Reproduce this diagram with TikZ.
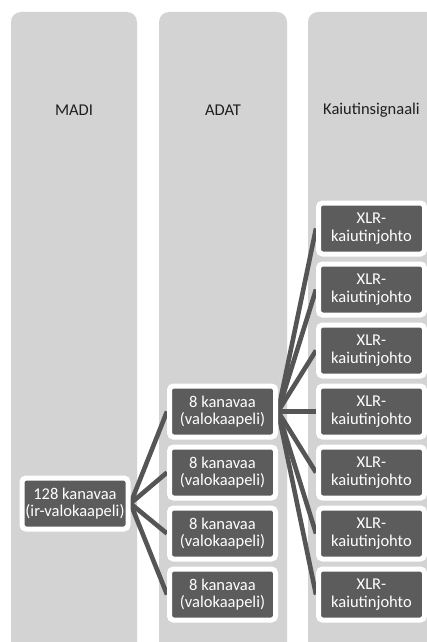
\documentclass[tikz,border=0pt]{standalone}
\usepackage{fontspec}
\setmainfont{Carlito}
\usetikzlibrary{backgrounds}
\definecolor{colgray}{HTML}{D3D3D3}
\definecolor{boxgray}{HTML}{5C5C5C}
\definecolor{wiregray}{HTML}{555555}
\tikzset{
  chan/.style={fill=boxgray, draw=white, line width=5pt, rounded corners=4pt,
    minimum width=106pt, minimum height=51pt, inner sep=0pt, align=center,
    text=white, font=\fontsize{16.5}{17.5}\selectfont},
  wire/.style={wiregray, line width=4.6pt},
  coltitle/.style={text=black!88, font=\fontsize{16.5}{18}\selectfont},
  column/.style={colgray, rounded corners=10pt}
}
\begin{document}
\begin{tikzpicture}[x=1pt,y=-1pt]
\useasboundingbox (0,0) rectangle (427,642);
\node[coltitle] (tmadi) at (74,110) {MADI};
\node[coltitle] (tadat) at (223,110) {ADAT};
\node[coltitle] (tkaiutin) at (371.5,110) {Kaiutinsignaali};
\node[chan] (madi) at (75,503.5) {128 kanavaa\\(ir-valokaapeli)};
\foreach \i in {1,...,4}
  \node[chan] (adat\i) at (222.5,167.5+61*\i+183) {8 kanavaa\\(valokaapeli)};
\foreach \i in {1,...,7}
  \node[chan] (xlr\i) at (371.5,167.5+61*\i) {XLR-\\kaiutinjohto};
\begin{scope}[on background layer]
  \fill[column] (11,12) rectangle (137,660);
  \fill[column] (159,12) rectangle (287,660);
  \fill[column] (308,12) rectangle (440,660);
  \foreach \i in {1,...,4}
    \draw[wire] (madi.east) -- (adat\i.west);
  \foreach \i in {1,...,7}
    \draw[wire] (adat1.east) -- (xlr\i.west);
\end{scope}
\end{tikzpicture}
\end{document}
